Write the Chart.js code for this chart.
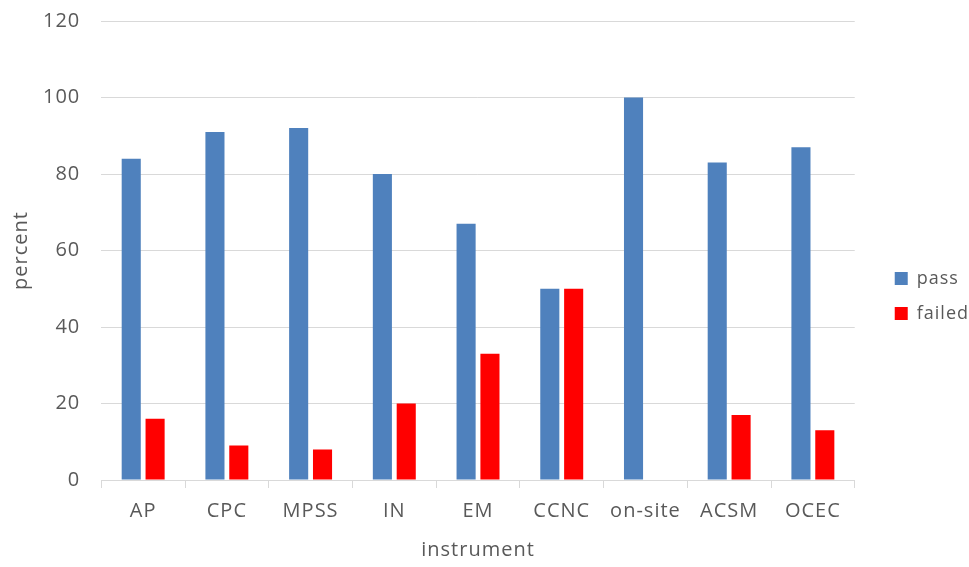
<!DOCTYPE html>
<html>
<head>
<meta charset="utf-8">
<script src="https://cdn.jsdelivr.net/npm/chart.js@4/dist/chart.umd.min.js"></script>
<style>
html,body{margin:0;padding:0;background:#fff;}
#wrap{width:969px;height:567px;position:relative;}
</style>
</head>
<body>
<div id="wrap"><canvas id="c" width="969" height="567"></canvas></div>
<script>
const categories = ["AP","CPC","MPSS","IN","EM","CCNC","on-site","ACSM","OCEC"];
const passValues = [84,91,92,80,67,50,100,83,87];
const failedValues = [16,9,8,20,33,50,0,17,13];
const yTicks = [0,20,40,60,80,100,120];

const FONT = "'Open Sans', 'Noto Sans', sans-serif";
const TXT = '#595959';
const SPACING = '1px';
const LEGEND_EXTRA = 13;  // extra width reserved for legend
const LEGEND_SHIFT = 23;  // move legend items right
const LEGEND_DROP = 14;   // move legend down

const helperPlugin = {
  id: 'helper',
  beforeUpdate(chart) { chart.ctx.letterSpacing = SPACING; },
  beforeLayout(chart) {
    const lg = chart.legend;
    if (lg && !lg._patched) {
      const f = lg.fit.bind(lg);
      lg.fit = function () { f(); this.width += LEGEND_EXTRA; };
      lg._patched = true;
    }
  },
  afterLayout(chart) {
    const lg = chart.legend;
    if (lg) {
      lg.left += LEGEND_SHIFT; lg.right += LEGEND_SHIFT;
      lg.top += LEGEND_DROP; lg.bottom += LEGEND_DROP;
    }
  },
  beforeDraw(chart) { chart.ctx.letterSpacing = SPACING; }
};

new Chart(document.getElementById('c'), {
  type: 'bar',
  data: {
    labels: categories,
    datasets: [
      {label: 'pass', data: passValues, backgroundColor: '#4f81bd', borderWidth: 0,
       categoryPercentage: 0.57, barPercentage: 0.8},
      {label: 'failed', data: failedValues, backgroundColor: '#ff0000', borderWidth: 0,
       categoryPercentage: 0.57, barPercentage: 0.8}
    ]
  },
  plugins: [helperPlugin],
  options: {
    responsive: false,
    animation: false,
    layout: {padding: {top: 2, right: 0, left: 0, bottom: 5}},
    plugins: {
      tooltip: {enabled: false},
      legend: {
        position: 'right',
        align: 'center',
        labels: {
          boxWidth: 13, boxHeight: 13, padding: 17,
          color: TXT, font: {family: FONT, size: 18}
        }
      }
    },
    scales: {
      x: {
        grid: {offset: true, drawOnChartArea: false, drawTicks: true, tickLength: 8, color: '#d9d9d9'},
        border: {display: true, color: '#d9d9d9', width: 1},
        ticks: {color: TXT, font: {family: FONT, size: 20}, padding: 11, maxRotation: 0},
        title: {display: true, text: 'instrument', color: TXT, font: {family: FONT, size: 20}, padding: {top: 4, bottom: 0}}
      },
      y: {
        min: 0, max: 120,
        afterBuildTicks: (axis) => { axis.ticks = yTicks.map(v => ({value: v})); },
        grid: {color: '#d9d9d9', drawTicks: true, tickLength: 12, tickColor: 'rgba(0,0,0,0)', lineWidth: 1},
        border: {display: false},
        ticks: {color: TXT, font: {family: FONT, size: 20}, padding: 9},
        title: {display: true, text: 'percent', color: TXT, font: {family: FONT, size: 20}, padding: {top: 9, bottom: 1}}
      }
    }
  }
});
</script>
</body>
</html>
